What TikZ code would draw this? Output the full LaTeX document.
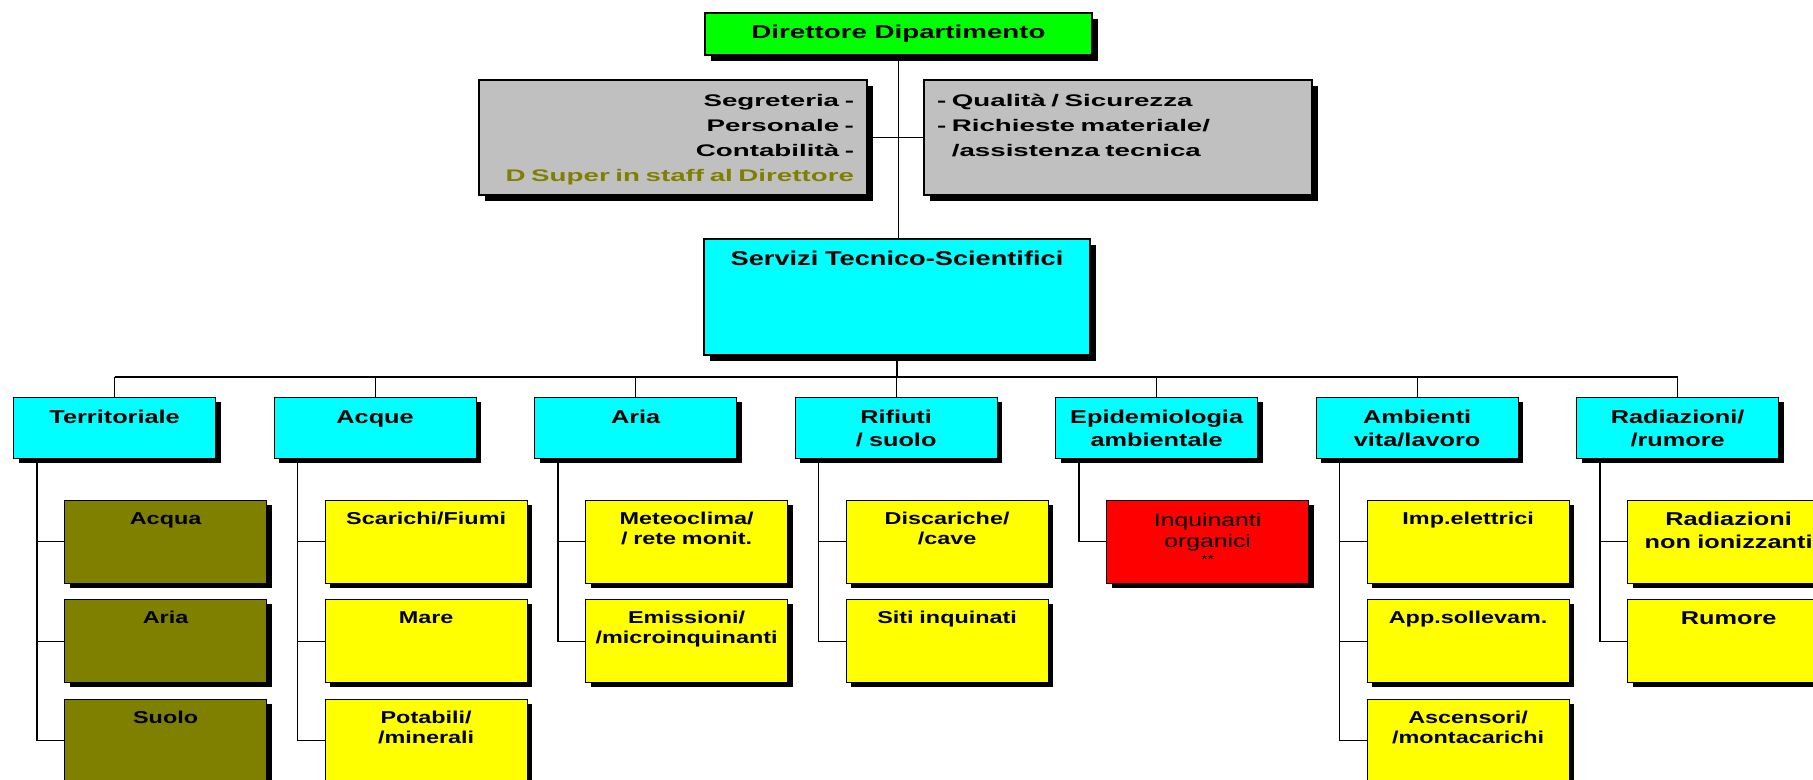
\documentclass[tikz,border=0pt]{standalone}
\usepackage{fontspec}
\setmainfont{Liberation Sans}[FakeStretch=1.36]
\newfontfamily\dirfont{Liberation Sans}[FakeStretch=1.49]
\newfontfamily\stafffont{Liberation Sans}[FakeStretch=1.65]
\usetikzlibrary{shadows}
\definecolor{dirgreen}{HTML}{00FF00}
\definecolor{staffgray}{HTML}{C0C0C0}
\definecolor{areacyan}{HTML}{00FFFF}
\definecolor{unityellow}{HTML}{FFFF00}
\definecolor{unitolive}{HTML}{808000}
\definecolor{unitred}{HTML}{FF0000}
\tikzset{
  topbox/.style={draw, line width=1pt, anchor=north west, inner sep=0pt,
    drop shadow={shadow xshift=3pt, shadow yshift=-3pt, fill=black, opacity=1}},
  dirbox/.style={topbox, fill=dirgreen, minimum width=193.5pt, minimum height=21pt,
    font=\dirfont\bfseries\fontsize{9.3}{11}\selectfont},
  staffbox/.style={topbox, fill=staffgray, inner xsep=6.5pt, text width=181pt,
    text height=13.5pt, text depth=44pt, font=\stafffont\bfseries\fontsize{8.4}{12.5}\selectfont},
  srvbox/.style={topbox, fill=areacyan, text width=193pt, align=center,
    text height=13.5pt, text depth=44.5pt, font=\bfseries\fontsize{10}{12}\selectfont},
  unitbox/.style={draw, line width=0.6pt, anchor=north west, inner sep=0pt, text width=101pt,
    align=center, drop shadow={shadow xshift=2.5pt, shadow yshift=-2.3pt, fill=black, opacity=1}},
  areabox/.style={unitbox, fill=areacyan, text height=12.85pt, text depth=17.65pt,
    font=\bfseries\fontsize{9.3}{11.5}\selectfont},
  subbox/.style={unitbox, fill=unityellow, text height=12pt, text depth=29.25pt,
    font=\bfseries\fontsize{8.6}{10}\selectfont},
  link/.style={line width=0.6pt}
}

\begin{document}
\begin{tikzpicture}[x=0.5pt, y=-0.5pt]
\useasboundingbox (0,0) rectangle (1813,780);
% direzione e staff
\node[dirbox] (dir) at (704,12) {Direttore Dipartimento};
\node[staffbox, align=right] (staffL) at (478,79) {Segreteria -\\Personale -\\Contabilità -\\\textcolor{unitolive}{D Super in staff al Direttore}};
\node[staffbox, align=left] (staffR) at (923,79) {- Qualità / Sicurezza\\- Richieste materiale/\\\phantom{- }/assistenza tecnica};
\node[srvbox] (srv) at (703,238) {Servizi Tecnico-Scientifici};
\coordinate (bus) at (896,377);

% aree
\foreach \i/\txt in {1/Territoriale, 2/Acque, 3/Aria, 4/{Rifiuti\\/ suolo},
    5/{Epidemiologia\\ambientale}, 6/{Ambienti\\vita/lavoro}, 7/{Radiazioni/\\/rumore}}
  \node[areabox] (a\i) at ({13+260.5*(\i-1)},397) {\txt};

% unita operative
\node[subbox, fill=unitolive] (s11) at (64,500) {Acqua};
\node[subbox, fill=unitolive] (s12) at (64,599.25) {Aria};
\node[subbox, fill=unitolive] (s13) at (64,698.5) {Suolo};
\node[subbox] (s21) at (324.5,500) {Scarichi/Fiumi};
\node[subbox] (s22) at (324.5,599.25) {Mare};
\node[subbox] (s23) at (324.5,698.5) {Potabili/\\/minerali};
\node[subbox] (s31) at (585,500) {Meteoclima/\\/ rete monit.};
\node[subbox] (s32) at (585,599.25) {Emissioni/\\/microinquinanti};
\node[subbox] (s41) at (845.5,500) {Discariche/\\/cave};
\node[subbox] (s42) at (845.5,599.25) {Siti inquinati};
\node[subbox, fill=unitred, font=\fontsize{9.1}{10.8}\selectfont, text height=12.85pt, text depth=28.4pt] (s51) at (1106,500) {Inquinanti\\organici\\[-3pt]{\fontsize{6}{6}\selectfont **}};
\node[subbox] (s61) at (1366.5,500) {Imp.elettrici};
\node[subbox] (s62) at (1366.5,599.25) {App.sollevam.};
\node[subbox] (s63) at (1366.5,698.5) {Ascensori/\\/montacarichi};
\node[subbox, font=\bfseries\fontsize{9.3}{11.5}\selectfont, text height=12.5pt, text depth=28.75pt] (s71) at (1627,500) {Radiazioni\\non ionizzanti};
\node[subbox, font=\bfseries\fontsize{9.3}{11.5}\selectfont, text height=12.5pt, text depth=28.75pt] (s72) at (1627,599.25) {Rumore};

% collegamenti
\draw[link] (dir.south) -- (dir.south |- srv.north);
\draw[link] (staffL.east) -- (staffR.west);
\draw[link] (srv.south) -- (srv.south |- bus);
\draw[link] (a1.north |- bus) -- (a7.north |- bus);
\foreach \i in {1,...,7}
  \draw[link] (a\i.north) -- (a\i.north |- bus);
\foreach \i/\k in {1/1, 1/2, 1/3, 2/1, 2/2, 2/3, 3/1, 3/2, 4/1, 4/2, 5/1, 6/1, 6/2, 6/3, 7/1, 7/2}
  \draw[link] ([xshift=12pt]a\i.south west) |- (s\i\k.west);
\end{tikzpicture}
\end{document}
